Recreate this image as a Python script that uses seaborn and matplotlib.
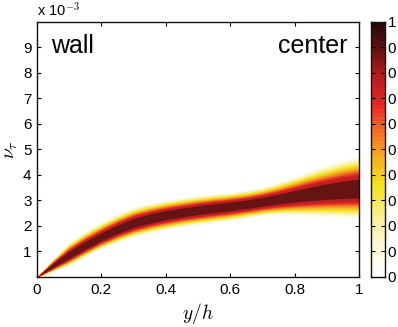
import numpy as np
import matplotlib
matplotlib.use("Agg")
import matplotlib.pyplot as plt
from matplotlib.colors import LinearSegmentedColormap, ListedColormap
import seaborn as sns

# wall-normal position y/h
y_h = [0.0, 0.05, 0.10, 0.15, 0.20, 0.25, 0.30, 0.35, 0.40, 0.45, 0.50,
       0.55, 0.60, 0.65, 0.70, 0.75, 0.80, 0.85, 0.90, 0.95, 1.0]
# eddy viscosity (x 1e-3): centre of the distribution and outer envelope
nu_center = [0.0, 0.45, 0.85, 1.22, 1.55, 1.85, 2.10, 2.28, 2.42, 2.52, 2.62,
             2.70, 2.77, 2.85, 2.94, 3.04, 3.15, 3.25, 3.33, 3.40, 3.45]
nu_upper = [0.0, 0.72, 1.37, 1.80, 2.16, 2.48, 2.75, 2.90, 3.02, 3.12, 3.20,
            3.27, 3.33, 3.41, 3.54, 3.73, 3.95, 4.18, 4.40, 4.60, 4.75]
nu_lower = [0.0, 0.22, 0.46, 0.80, 1.12, 1.36, 1.57, 1.72, 1.85, 1.96, 2.05,
            2.12, 2.20, 2.30, 2.40, 2.44, 2.43, 2.40, 2.37, 2.33, 2.30]

# probability levels for the nested bands (outer -> inner) and their width fraction
band_level = np.linspace(0.04, 0.76, 24)
band_frac = np.linspace(1.0, 0.40, 24)
core_level = 0.88
core_frac = 0.30

cbar_ticks = [0, 0.1, 0.2, 0.3, 0.4, 0.5, 0.6, 0.7, 0.8, 0.9, 1.0]
cbar_labels = ["0", "0", "0", "0", "0", "0", "0", "0", "0", "0", "1"]

sns.set_style("ticks")
plt.rcParams['font.family'] = ['Liberation Sans', 'DejaVu Sans']
plt.rcParams['mathtext.fontset'] = 'cm'
plt.rcParams['text.color'] = 'black'
plt.rcParams['axes.labelcolor'] = 'black'

base = LinearSegmentedColormap.from_list("whot", [
    (0.00, "#ffffff"), (0.12, "#fcf8d6"), (0.25, "#f8ef86"), (0.36, "#f2e31c"),
    (0.48, "#f4a822"), (0.58, "#f06a26"), (0.68, "#e22626"), (0.80, "#b01c1e"),
    (0.90, "#5e1212"), (1.00, "#2a0808")])
cmap = ListedColormap(base(np.linspace(0, 1, 64)))

x = np.array(y_h)
c = np.array(nu_center)
up = np.array(nu_upper) - c
lo = c - np.array(nu_lower)

fig = plt.figure(figsize=(3.98, 3.27), dpi=100)
ax = fig.add_axes([0.093, 0.153, 0.809, 0.780])

for lev, fr in zip(list(band_level) + [core_level], list(band_frac) + [core_frac]):
    ax.fill_between(x, c - fr * lo, c + fr * up, color=cmap(lev), lw=0)

ax.set_xlim(0, 1)
ax.set_ylim(0, 10)
ax.set_xticks([0, 0.2, 0.4, 0.6, 0.8, 1.0])
ax.set_xticklabels(["0", "0.2", "0.4", "0.6", "0.8", "1"])
ax.set_yticks(range(1, 10))
ax.tick_params(direction="in", top=True, right=True, length=3, labelsize=11,
               pad=4, colors="black")
for s in ax.spines.values():
    s.set_linewidth(1.0)
    s.set_color("#111111")
    s.set_visible(True)

ax.set_xlabel("$y/h$", fontsize=14, labelpad=3)
ax.set_ylabel(r"$\nu_\tau$", fontsize=14, labelpad=2)
ax.text(0.0, 1.012, r"x 10$^{-3}$", transform=ax.transAxes, fontsize=10.5,
        va="bottom", ha="left")
ax.text(0.045, 0.905, "wall", transform=ax.transAxes, fontsize=18, va="center")
ax.text(0.965, 0.905, "center", transform=ax.transAxes, fontsize=18,
        va="center", ha="right")

cax = fig.add_axes([0.932, 0.153, 0.035, 0.780])
grad = np.linspace(0, 1, 64).reshape(-1, 1)
cax.imshow(grad, cmap=cmap, aspect="auto", origin="lower", extent=[0, 1, 0, 1])
cax.set_xticks([])
cax.yaxis.tick_right()
cax.set_yticks(cbar_ticks)
cax.set_yticklabels(cbar_labels)
cax.tick_params(axis="y", direction="in", length=3, labelsize=11, pad=2,
                left=True, colors="black")
for s in cax.spines.values():
    s.set_linewidth(1.0)
    s.set_color("#111111")

fig.savefig("out.png", dpi=100)
